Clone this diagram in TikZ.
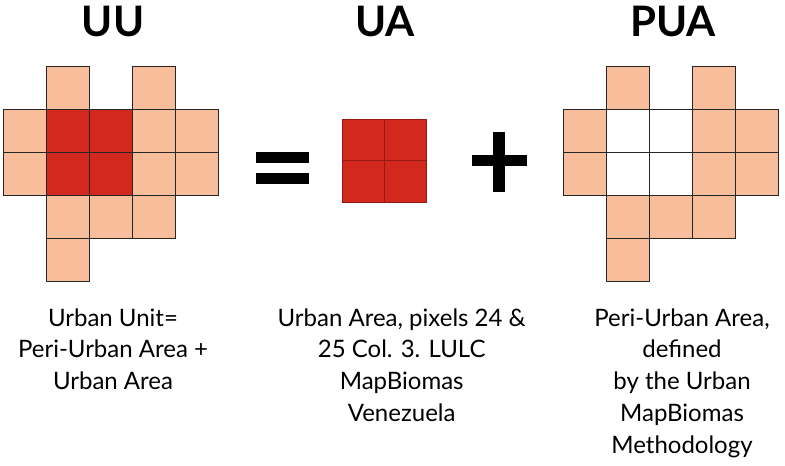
\documentclass[tikz,border=0pt]{standalone}
\usepackage{fontspec}
\setmainfont{Lato}
\definecolor{peach}{RGB}{248,190,156}
\definecolor{urbred}{RGB}{211,40,30}
\definecolor{redline}{RGB}{150,25,20}
\begin{document}
\begin{tikzpicture}[x=1pt,y=-1pt,
  cellbox/.style={draw=black!85,line width=0.8pt,minimum size=43pt,inner sep=0pt,outer sep=0pt,anchor=north west},
  peachcell/.style={cellbox,fill=peach},
  redcell/.style={cellbox,fill=urbred},
  whitecell/.style={cellbox,fill=white},
  uacell/.style={draw=redline,line width=0.6pt,fill=urbred,minimum size=42pt,inner sep=0pt,outer sep=0pt,anchor=north west},
  title/.style={font=\fontsize{42}{46}\selectfont\bfseries,anchor=base,inner sep=0pt},
  label/.style={font=\fontsize{24}{30}\selectfont,anchor=base,inner sep=0pt},
  bar/.style={fill=black,draw=none}
]
\useasboundingbox (0,0) rectangle (785,466);
% Titles
\node[title] (tUU) at (113,36.7) {UU};
\node[title] (tUA) at (385,36.7) {UA};
\node[title] (tPUA) at (673,36.7) {PUA};
% UU grid
\def\cs{43}
\foreach \c/\r/\s [count=\i] in {1/0/peachcell,3/0/peachcell,
  0/1/peachcell,1/1/redcell,2/1/redcell,3/1/peachcell,4/1/peachcell,
  0/2/peachcell,1/2/redcell,2/2/redcell,3/2/peachcell,4/2/peachcell,
  1/3/peachcell,2/3/peachcell,3/3/peachcell,1/4/peachcell}
  \node[\s] (uu\i) at ({3.5+\c*\cs},{66+\r*\cs}) {};
% PUA grid
\foreach \c/\r/\s [count=\i] in {1/0/peachcell,3/0/peachcell,
  0/1/peachcell,1/1/whitecell,2/1/whitecell,3/1/peachcell,4/1/peachcell,
  0/2/peachcell,1/2/whitecell,2/2/whitecell,3/2/peachcell,4/2/peachcell,
  1/3/peachcell,2/3/peachcell,3/3/peachcell,1/4/peachcell}
  \node[\s] (pua\i) at ({563.5+\c*\cs},{66+\r*\cs}) {};
% UA grid
\foreach \c/\r [count=\i] in {0/0,1/0,0/1,1/1}
  \node[uacell] (ua\i) at ({342+\c*42},{119.3+\r*41}) {};
% equals
\fill[bar] (255.7,151.7) rectangle (309,163.3);
\fill[bar] (255.7,172.7) rectangle (309,184);
% plus
\fill[bar] (471.7,155) rectangle (526.7,166.3);
\fill[bar] (493.3,132.3) rectangle (505,191.7);
% labels
\node[label] (l11) at (113,326) {Urban Unit=};
\node[label] (l12) at (113,357.8) {Peri-Urban Area +};
\node[label] (l13) at (113,389.6) {Urban Area};
\node[label] (l21) at (401.7,326) {Urban Area, pixels 24 \&};
\node[label] (l22) at (401.7,357.8) {25 Col. 3. LULC};
\node[label] (l23) at (401.7,389.6) {MapBiomas};
\node[label] (l24) at (401.7,421.4) {Venezuela};
\node[label] (l31) at (682,326) {Peri-Urban Area,};
\node[label] (l32) at (682,357.8) {defined};
\node[label] (l33) at (682,389.6) {by the Urban};
\node[label] (l34) at (682,421.4) {MapBiomas};
\node[label] (l35) at (682,453.2) {Methodology};
\end{tikzpicture}
\end{document}
